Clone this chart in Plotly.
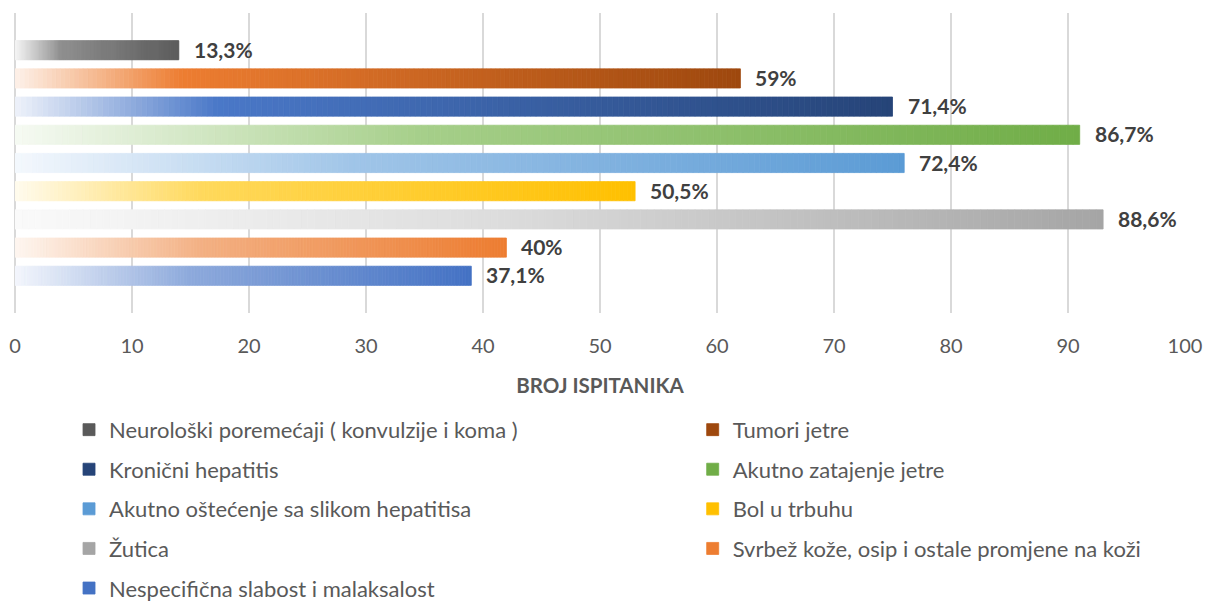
import plotly.graph_objects as go

# ---- data ----
categories = [
    "Neurološki poremećaji ( konvulzije i koma )",
    "Tumori jetre",
    "Kronični hepatitis",
    "Akutno zatajenje jetre",
    "Akutno oštećenje sa slikom hepatitisa",
    "Bol u trbuhu",
    "Žutica",
    "Svrbež kože, osip i ostale promjene na koži",
    "Nespecifična slabost i malaksalost",
]
values = [14, 62, 75, 91, 76, 53, 93, 42, 39]
labels = ["13,3%", "59%", "71,4%", "86,7%", "72,4%", "50,5%", "88,6%", "40%", "37,1%"]
x_ticks = [0, 10, 20, 30, 40, 50, 60, 70, 80, 90, 100]
x_title = "BROJ ISPITANIKA"

# gradient stops per series: (position, colour)
gradients = [
    [(0, "#f4f4f4"), (0.28, "#8e8e8e"), (1, "#5a5a5a")],
    [(0, "#fdf1e9"), (0.23, "#ED7D31"), (1, "#9E480E")],
    [(0, "#eef2fa"), (0.23, "#4a78c8"), (1, "#264478")],
    [(0, "#f6faf3"), (0.38, "#a6cf8a"), (1, "#70AD47")],
    [(0, "#f4f8fd"), (0.38, "#a0c5e8"), (1, "#5B9BD5")],
    [(0, "#fffbee"), (0.3, "#ffd95c"), (1, "#FFC000")],
    [(0, "#fafafa"), (0.45, "#dcdcdc"), (1, "#a5a5a5")],
    [(0, "#fef6f0"), (0.38, "#f3b083"), (1, "#ED7D31")],
    [(0, "#f3f6fc"), (0.38, "#8eaadc"), (1, "#4472C4")],
]
legend_column = [1, 2, 1, 2, 1, 2, 1, 2, 1]

FONT = "Lato"
N_SEG = 160


def hex2rgb(h):
    h = h.lstrip("#")
    return [int(h[i:i + 2], 16) for i in (0, 2, 4)]


def interp(stops, t):
    for (p0, c0), (p1, c1) in zip(stops[:-1], stops[1:]):
        if t <= p1:
            f = 0 if p1 == p0 else (t - p0) / (p1 - p0)
            a, b = hex2rgb(c0), hex2rgb(c1)
            return "rgb({},{},{})".format(*[round(a[i] + (b[i] - a[i]) * f) for i in range(3)])
    r = hex2rgb(stops[-1][1])
    return "rgb({},{},{})".format(*r)


fig = go.Figure()
n = len(categories)
for i, (cat, v, stops) in enumerate(zip(categories, values, gradients)):
    seg = v / N_SEG
    ks = list(range(N_SEG - 1, -1, -1))  # last segment first so legend uses the end colour
    cols = [interp(stops, (k + 0.5) / N_SEG) for k in ks]
    fig.add_trace(go.Bar(
        orientation="h",
        y=[cat] * N_SEG,
        x=[seg] * N_SEG,
        base=[seg * k for k in ks],
        width=0.68,
        marker=dict(color=cols, line=dict(width=0.8, color=cols)),
        name=cat,
        legend="legend" if legend_column[i] == 1 else "legend2",
        legendgroup=cat,
        hoverinfo="skip",
    ))
    fig.add_annotation(
        x=v, y=cat, text="<b>" + labels[i] + "</b>", showarrow=False,
        xanchor="left", xshift=13, yshift=1,
        font=dict(family=FONT, size=21, color="#404040"),
    )

leg_common = dict(
    orientation="v", traceorder="grouped", tracegroupgap=8,
    font=dict(family=FONT, size=22, color="#595959"),
    xref="container", yref="container",
    yanchor="top", xanchor="left", bgcolor="rgba(0,0,0,0)",
    itemclick=False, itemdoubleclick=False,
)

fig.update_layout(
    width=1211, height=603,
    margin=dict(l=15, r=26, t=13, b=290, autoexpand=False),
    paper_bgcolor="white", plot_bgcolor="white",
    barmode="overlay",
    showlegend=True,
    legend=dict(x=0.057, y=0.322, **leg_common),
    legend2=dict(x=0.572, y=0.322, **leg_common),
    xaxis=dict(
        range=[0, 100], tickvals=x_ticks, showgrid=True, gridcolor="#d9d9d9", gridwidth=2,
        zeroline=True, zerolinecolor="#d9d9d9", zerolinewidth=2, showline=False,
        tickfont=dict(family=FONT, size=20, color="#595959"),
        ticklabelstandoff=19,
        title=dict(text="<b>" + x_title + "</b>", font=dict(family=FONT, size=20.5, color="#595959"), standoff=22),
        fixedrange=True,
    ),
    yaxis=dict(
        categoryorder="array", categoryarray=categories[::-1],
        range=[-1.32, n - 1 + 1.32], showticklabels=False, showgrid=False, zeroline=False,
        fixedrange=True,
    ),
)

fig.write_html(
    "out.html",
    config={"displayModeBar": False},
    post_script="document.body.style.margin='0';document.body.style.overflow='hidden';",
)
